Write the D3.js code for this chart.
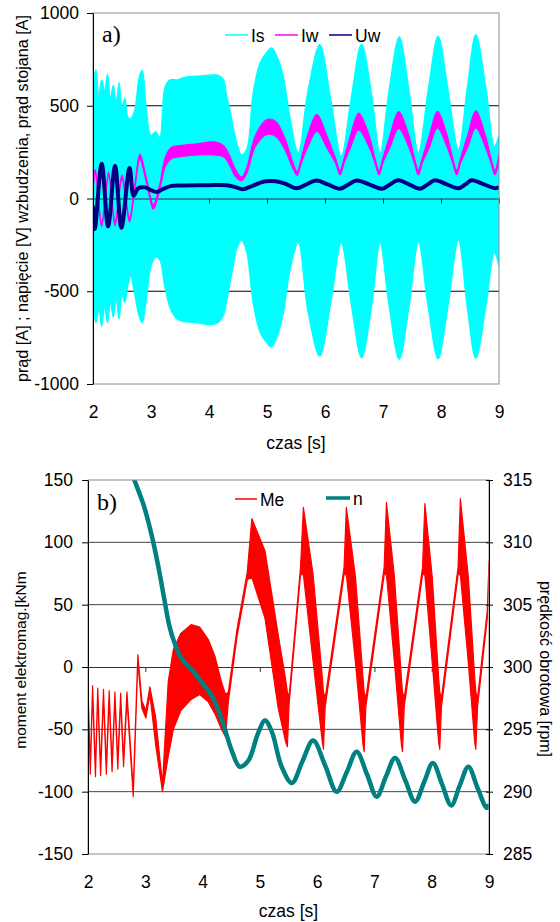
<!DOCTYPE html>
<html>
<head>
<meta charset="utf-8">
<script src="https://d3js.org/d3.v7.min.js"></script>
<style>
  body { margin: 0; background: #fff; }
  svg text { font-family: "Liberation Sans", Arial, sans-serif; fill: #000; }
  .panel { font-family: "Liberation Serif", "Times New Roman", serif !important; font-size: 24px; }
</style>
</head>
<body>
<div class="svg-container"></div>
<script>
// ---- chart a) : stator current Is (envelope), field current Iw (band), field voltage Uw
var isTime = [2.00, 2.05, 2.10, 2.15, 2.20, 2.25, 2.30, 2.35, 2.40, 2.45, 2.50, 2.55, 2.60, 2.65, 2.72, 2.80,
              2.85, 2.92, 3.00, 3.08, 3.15, 3.24, 3.33, 3.45, 3.60, 3.80, 4.00, 4.15, 4.25, 4.30, 4.36, 4.42,
              4.48, 4.56, 4.65, 4.76, 4.88, 5.00, 5.08, 5.18, 5.28, 5.40, 5.54, 5.70, 5.91, 6.10, 6.28, 6.45,
              6.63, 6.80, 6.95, 7.10, 7.28, 7.45, 7.61, 7.78, 7.95, 8.12, 8.30, 8.45, 8.60, 8.78, 8.92, 9.00];
var isHigh = [620, 695, 560, 640, 580, 670, 540, 610, 520, 625, 500, 540, 440, 430, 480, 660,
              690, 480, 340, 360, 330, 600, 640, 640, 655, 660, 665, 665, 640, 560, 480, 380,
              300, 235, 265, 570, 730, 790, 812, 760, 660, 430, 246, 570, 830, 534, 228, 540,
              832, 570, 246, 575, 872, 580, 246, 588, 876, 590, 264, 590, 884, 585, 282, 340];
var isLow = [-560, -670, -600, -690, -580, -670, -560, -640, -540, -650, -520, -560, -470, -420, -520, -640,
             -670, -540, -365, -315, -330, -480, -590, -650, -665, -670, -680, -670, -630, -560, -460, -360,
             -270, -225, -290, -560, -720, -780, -800, -740, -620, -380, -239, -598, -850, -562, -239, -565,
             -859, -590, -240, -570, -868, -580, -235, -590, -865, -580, -225, -580, -862, -570, -293, -365];

var iwTime = [2.00, 2.04, 2.15, 2.27, 2.38, 2.50, 2.63, 2.72, 2.81, 2.92, 3.04, 3.15, 3.25, 3.35, 3.50, 3.80,
              4.10, 4.25, 4.35, 4.45, 4.56, 4.65, 4.80, 5.00, 5.15, 5.30, 5.45, 5.52, 5.59, 5.70, 5.86, 6.03,
              6.18, 6.26, 6.33, 6.44, 6.58, 6.76, 6.86, 6.93, 7.00, 7.12, 7.27, 7.44, 7.54, 7.61, 7.68, 7.80,
              7.94, 8.10, 8.20, 8.27, 8.34, 8.46, 8.60, 8.76, 8.86, 8.93, 9.00];
var iwHigh = [72, 157, -128, 142, -123, 127, -103, 72, 240, 112, -33, 75, 225, 275, 285, 295,
              305, 285, 235, 160, 115, 165, 340, 425, 415, 330, 190, 145, 215, 340, 453, 340,
              218, 150, 218, 340, 460, 340, 218, 150, 220, 340, 468, 345, 220, 152, 220, 340,
              470, 345, 220, 152, 220, 340, 472, 345, 220, 152, 240];
var iwLow = [48, 133, -152, 118, -147, 103, -127, 48, 210, 88, -57, 45, 175, 215, 225, 235,
             235, 225, 185, 120, 95, 135, 280, 345, 335, 270, 160, 125, 190, 275, 363, 275,
             192, 128, 192, 275, 370, 278, 192, 128, 194, 276, 378, 282, 192, 128, 194, 276,
             380, 282, 192, 128, 194, 276, 380, 282, 192, 128, 205];

var uwTime = [2.00, 2.03, 2.15, 2.26, 2.38, 2.49, 2.63, 2.70, 2.78, 2.90, 3.00, 3.10, 3.20, 3.35, 3.60, 4.00,
              4.30, 4.45, 4.58, 4.75, 4.95, 5.15, 5.30, 5.51, 5.68, 5.85, 6.05, 6.26, 6.40, 6.55, 6.77, 6.99,
              7.12, 7.26, 7.45, 7.64, 7.77, 7.90, 8.10, 8.30, 8.42, 8.53, 8.74, 8.94, 9.00];
var uwValue = [-40, -165, 188, -150, 175, -158, 165, 15, 55, 60, 45, 35, 50, 68, 70, 72,
               72, 62, 50, 68, 92, 93, 82, 55, 76, 97, 76, 53, 75, 97, 75, 53,
               76, 98, 76, 53, 76, 98, 76, 55, 76, 98, 76, 55, 62];

// ---- chart b) : electromagnetic torque Me (band), speed n (right axis)
var meTime = [2.00, 2.04, 2.08, 2.13, 2.17, 2.22, 2.27, 2.32, 2.37, 2.42,
              2.47, 2.52, 2.57, 2.62, 2.68, 2.79, 2.87, 2.94, 3.01, 3.08,
              3.18, 3.30, 3.40, 3.49, 3.62, 3.80, 3.95, 4.10, 4.22, 4.33,
              4.40, 4.45, 4.60, 4.78, 4.86, 5.09, 5.32, 5.45, 5.48, 5.51,
              5.71, 5.76, 5.93, 6.09, 6.11, 6.14, 6.47, 6.51, 6.67, 6.80,
              6.82, 6.85, 7.17, 7.21, 7.35, 7.47, 7.49, 7.52, 7.84, 7.88,
              8.01, 8.12, 8.14, 8.17, 8.46, 8.50, 8.64, 8.75, 8.77, 8.80,
              8.97, 9.00];
var meHigh = [-14, -80, -15, -82, -17, -81, -18, -80, -19, -78,
              -20, -76, -21, -74, -20, -98, 10, -27, -35, -16,
              -40, -94, -12, 14, 27, 34, 32, 22, 8, -12,
              -22, -20, 30, 76, 119, 93, 26, -10, -20, -24,
              80, 128, 74, -8, -20, -25, 80, 128, 72, -8,
              -20, -25, 80, 132, 72, -8, -20, -25, 80, 131,
              72, -8, -20, -25, 80, 135, 72, -8, -20, -25,
              45, 85];
var meLow = [-20, -86, -21, -88, -23, -87, -24, -86, -25, -84,
             -26, -82, -27, -80, -26, -104, 4, -33, -41, -22,
             -62, -100, -72, -50, -35, -26, -22, -28, -38, -50,
             -56, -28, 24, 70, 72, 39, -33, -60, -64, -30,
             74, 74, 4, -60, -66, -32, 74, 74, 3, -62,
             -68, -32, 74, 74, 3, -62, -68, -32, 74, 74,
             3, -60, -66, -32, 74, 74, 3, -60, -66, -32,
             39, 79];

var nTime = [2.70, 2.81, 2.97, 3.11, 3.23, 3.33, 3.42, 3.52, 3.63, 3.81, 3.98, 4.16, 4.27, 4.39, 4.51, 4.65,
             4.80, 4.97, 5.09, 5.21, 5.38, 5.56, 5.74, 5.93, 6.14, 6.34, 6.52, 6.69, 6.87, 7.04, 7.20, 7.36,
             7.54, 7.71, 7.87, 8.02, 8.18, 8.34, 8.49, 8.64, 8.80, 8.96, 9.00];
var nValue = [316.4, 315.0, 313.0, 310.6, 308.0, 305.5, 303.3, 301.8, 300.7, 299.8, 298.8, 297.7, 296.6, 295.0, 293.3, 292.0,
              292.5, 294.7, 295.7, 294.8, 292.0, 290.7, 292.4, 294.1, 292.1, 290.0, 291.6, 293.2, 291.4, 289.6, 291.2, 292.7,
              290.9, 289.2, 290.8, 292.3, 290.6, 288.9, 290.5, 292.0, 290.3, 288.7, 289.0];

// ticks
var timeTicks = [2, 3, 4, 5, 6, 7, 8, 9];
var ticksA = [-1000, -500, 0, 500, 1000];
var ticksMe = [-150, -100, -50, 0, 50, 100, 150];
var ticksN = [285, 290, 295, 300, 305, 310, 315];

var width = 560;
var height = 922;

var svg = d3.select(".svg-container")
            .append("svg")
            .attr("width", width)
            .attr("height", height);

svg.append("rect").attr("width", width).attr("height", height).attr("fill", "#fff");

var boxA = { left: 93, right: 499, top: 13, bottom: 384 };
var boxB = { left: 88, right: 489, top: 480, bottom: 854 };

var xA = d3.scaleLinear().domain([2, 9]).range([boxA.left, boxA.right]);
var yA = d3.scaleLinear().domain([-1000, 1000]).range([boxA.bottom, boxA.top]);
var xB = d3.scaleLinear().domain([2, 9]).range([boxB.left, boxB.right]);
var yB = d3.scaleLinear().domain([-150, 150]).range([boxB.bottom, boxB.top]);
var yN = d3.scaleLinear().domain([285, 315]).range([boxB.bottom, boxB.top]);

// plain labels, hyphen as minus sign
var plain = function(d) { return String(d); };

// clip paths for both plot areas
var defs = svg.append("defs");
[["clipA", boxA], ["clipB", boxB]].forEach(function(c) {
    defs.append("clipPath").attr("id", c[0])
        .append("rect")
        .attr("x", c[1].left).attr("y", c[1].top)
        .attr("width", c[1].right - c[1].left)
        .attr("height", c[1].bottom - c[1].top);
});

function band(times, hi, lo) {
    return times.map(function(t, i) { return { t: t, hi: hi[i], lo: lo[i] }; });
}
function series(times, vals) {
    return times.map(function(t, i) { return { t: t, v: vals[i] }; });
}

function drawBand(data, x, y, color, curve, clip) {
    var area = d3.area()
                 .curve(curve)
                 .x(function(d) { return x(d.t); })
                 .y0(function(d) { return y(d.lo); })
                 .y1(function(d) { return y(d.hi); });
    svg.append("path")
       .datum(data)
       .attr("clip-path", "url(#" + clip + ")")
       .attr("fill", color)
       .attr("stroke", color)
       .attr("stroke-width", 1.2)
       .attr("stroke-linejoin", "round")
       .attr("d", area);
}

function drawLine(data, x, y, color, w, clip) {
    var line = d3.line()
                 .curve(d3.curveCatmullRom)
                 .x(function(d) { return x(d.t); })
                 .y(function(d) { return y(d.v); });
    svg.append("path")
       .datum(data)
       .attr("clip-path", "url(#" + clip + ")")
       .attr("fill", "none")
       .attr("stroke", color)
       .attr("stroke-width", w)
       .attr("stroke-linejoin", "round")
       .attr("d", line);
}

function gridLines(box, y, values, color) {
    svg.append("g")
       .selectAll("line")
       .data(values)
       .enter()
       .append("line")
       .attr("x1", box.left).attr("x2", box.right)
       .attr("y1", function(d) { return y(d); })
       .attr("y2", function(d) { return y(d); })
       .attr("stroke", color)
       .attr("stroke-width", 1);
}

function frame(box) {
    svg.append("rect")
       .attr("x", box.left).attr("y", box.top)
       .attr("width", box.right - box.left)
       .attr("height", box.bottom - box.top)
       .attr("fill", "none")
       .attr("stroke", "#8c8c8c")
       .attr("stroke-width", 1);
}

function styleAxis(g) {
    g.attr("font-family", null).attr("font-size", null);
    g.selectAll("text").style("font-size", "17.5px");
    g.selectAll("line, path").attr("stroke", "#000");
}

// zero line with small ticks, labels at the bottom
function timeAxis(x, yZero, box) {
    svg.append("g")
       .attr("transform", "translate(0," + yZero + ")")
       .call(d3.axisBottom(x).tickValues(timeTicks).tickSize(5).tickSizeOuter(0).tickFormat(""))
       .call(function(g) {
           g.selectAll("line").attr("stroke", "#333");
           g.select(".domain").attr("stroke", "#333");
       });
    svg.append("g")
       .attr("transform", "translate(0," + box.bottom + ")")
       .call(d3.axisBottom(x).tickValues(timeTicks).tickSize(0).tickPadding(22).tickFormat(plain))
       .call(styleAxis)
       .call(function(g) { g.select(".domain").remove(); });
}

function legendItem(x1, x2, y, color, w, label) {
    svg.append("line")
       .attr("x1", x1).attr("x2", x2).attr("y1", y).attr("y2", y)
       .attr("stroke", color).attr("stroke-width", w);
    svg.append("text")
       .attr("x", x2 + 3).attr("y", y + 6.5)
       .style("font-size", "17.5px")
       .text(label);
}

// ================= chart a)
gridLines(boxA, yA, [500, -500], "#000");
drawBand(band(isTime, isHigh, isLow), xA, yA, "#00ffff", d3.curveCatmullRom, "clipA");
timeAxis(xA, yA(0), boxA);
drawBand(band(iwTime, iwHigh, iwLow), xA, yA, "#ff00ff", d3.curveCatmullRom, "clipA");
drawLine(series(uwTime, uwValue), xA, yA, "#000080", 4, "clipA");
frame(boxA);

svg.append("g")
   .attr("transform", "translate(" + boxA.left + ",0)")
   .call(d3.axisLeft(yA).tickValues(ticksA).tickSize(6).tickSizeOuter(0).tickPadding(8).tickFormat(plain))
   .call(styleAxis);

svg.append("text").attr("class", "panel").attr("x", 102).attr("y", 42).text("a)");
legendItem(225, 248, 35, "#00ffff", 1.5, "Is");
legendItem(275, 298, 35, "#ff00ff", 1.5, "Iw");
legendItem(329, 352, 35, "#000080", 1.5, "Uw");

svg.append("text")
   .attr("x", (boxA.left + boxA.right) / 2).attr("y", 449)
   .attr("text-anchor", "middle")
   .style("font-size", "17.5px")
   .text("czas [s]");

svg.append("text")
   .attr("transform", "translate(28," + ((boxA.top + boxA.bottom) / 2) + ") rotate(-90)")
   .attr("text-anchor", "middle")
   .style("font-size", "16.2px")
   .text("prąd [A] ; napięcie [V] wzbudzenia, prąd stojana [A]");

// ================= chart b)
gridLines(boxB, yB, [100, 50, -50, -100], "#444");
timeAxis(xB, yB(0), boxB);
drawBand(band(meTime, meHigh, meLow), xB, yB, "#ff0000", d3.curveLinear, "clipB");
drawLine(series(nTime, nValue), xB, yN, "#008080", 4.5, "clipB");
frame(boxB);

svg.append("g")
   .attr("transform", "translate(" + boxB.left + ",0)")
   .call(d3.axisLeft(yB).tickValues(ticksMe).tickSize(6).tickSizeOuter(0).tickPadding(9).tickFormat(plain))
   .call(styleAxis);

svg.append("g")
   .attr("transform", "translate(" + boxB.right + ",0)")
   .call(d3.axisRight(yN).tickValues(ticksN).tickSize(4).tickSizeOuter(0).tickPadding(10).tickFormat(plain))
   .call(styleAxis)
   .call(function(g) { g.selectAll(".tick line").attr("x1", -3); });

svg.append("text").attr("class", "panel").attr("x", 97).attr("y", 510).text("b)");
legendItem(235, 257, 499, "#ff0000", 1.5, "Me");
legendItem(326, 350, 498, "#008080", 3.5, "n");

svg.append("text")
   .attr("x", (boxB.left + boxB.right) / 2).attr("y", 917)
   .attr("text-anchor", "middle")
   .style("font-size", "17.5px")
   .text("czas [s]");

svg.append("text")
   .attr("transform", "translate(26,660) rotate(-90)")
   .attr("text-anchor", "middle")
   .style("font-size", "15.5px")
   .text("moment elektromag.[kNm");

svg.append("text")
   .attr("transform", "translate(540,669) rotate(90)")
   .attr("text-anchor", "middle")
   .style("font-size", "16px")
   .text("prędkość obrotowa [rpm]");
</script>
</body>
</html>
